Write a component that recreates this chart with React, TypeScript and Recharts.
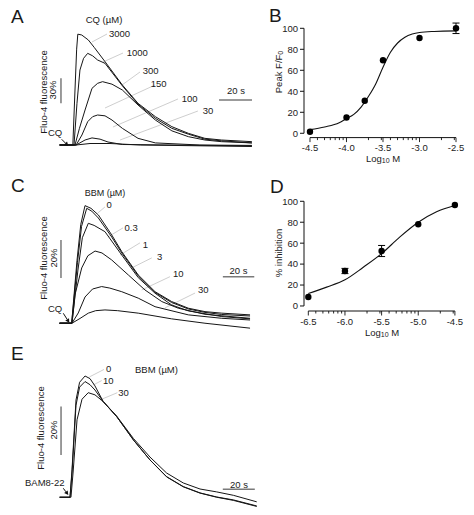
import React from 'react';
import {
  LineChart, Line, XAxis, YAxis, ReferenceLine, ComposedChart, Scatter, ErrorBar,
} from 'recharts';

const FONT = '"Liberation Sans", Arial, Helvetica, sans-serif';

// ---- panel A: CQ dose series, [time s, Fluo-4 change %]
const cqDoses = ['3000', '1000', '300', '150', '100', '30'];
const a3000 = [[1, 0], [9, 0], [10.3, 66], [11.3, 115], [12, 133], [14.4, 132], [18.4, 126], [22, 117], [28.5, 100], [39, 72], [48.5, 50], [59, 34], [69, 22], [79, 14], [89, 8], [99, 6], [117.5, 4]];
const a1000 = [[1, 0], [9.7, 0], [11.5, 50], [13.3, 90], [15.5, 104], [18, 110], [21, 107], [24, 102], [28.5, 98], [39, 71], [48.5, 49], [59, 32], [69, 20], [79, 13], [89, 7], [99, 5], [117.5, 2.5]];
const a300 = [[1, 0], [10.3, 0], [13, 20], [16.4, 42], [20.6, 68], [24, 74], [27, 76], [32.7, 73], [39, 66], [48.5, 48], [59, 30], [69, 17], [79, 10], [89, 6], [99, 4], [117.5, 2.5]];
const a150 = [[1, 0], [11, 0], [14.5, 12], [18, 28], [21, 34], [24, 36], [28.5, 35], [32.7, 30], [39, 20], [48.5, 8], [59, 2.5], [86, 0], [117.5, -0.5]];
const a100 = [[1, 0], [11, 0], [16.4, 6], [20.6, 8.5], [25.5, 7], [30.3, 3.6], [39, 0.6], [117.5, -1]];
const a30 = [[1, 0], [11, 0], [19.4, 1.8], [31.5, 1.8], [50, 0], [117.5, -1.8]];
// leader lines from each trace to its label
const aLeaders = [
  [[20.6, 123.6], [29.7, 133.2]],
  [[27.3, 99.6], [39.4, 110.4]],
  [[38.8, 72], [49.7, 87.6]],
  [[28.5, 44.4], [58.8, 72]],
  [[33.3, 21.6], [72.7, 55.2]],
  [[37.6, 6], [84.8, 40.8]],
];

// ---- panel B: peak response vs log10 [CQ]
const bDoseLog = [-4.5, -4.0, -3.75, -3.5, -3.0, -2.5];
const bPeak = [1.5, 15, 31, 69.5, 90.8, 100];
const bSem = [0, 0, 0, 0, 0, 5];
const bFitLog = [-4.5, -4.3, -4.1, -4.0, -3.9, -3.8, -3.7, -3.6, -3.5, -3.4, -3.3, -3.2, -3.1, -3.0, -2.8, -2.5];
const bFitVal = [3.5, 6, 10, 14, 18, 25, 35, 47, 63, 77, 86, 91.5, 94.5, 96, 97, 97.5];
const bMajors = [-4.5, -4.0, -3.5, -3.0, -2.5];

// ---- panel C: BBM series on CQ response
const bbmDoses = ['0', '0.3', '1', '3', '10', '30'];
const c0 = [[1, 0], [8.7, 0], [12.1, 33], [14.5, 52], [17.2, 61.9], [21, 60.5], [25.7, 57], [34.2, 46.5], [40.6, 37.7], [51.1, 25.4], [61.8, 16.6], [72.4, 11.4], [83, 7.9], [93.6, 6.1], [104.3, 5.3], [122.3, 4.4]];
const c03 = [[1, 0], [8.7, 0], [12.4, 32], [15, 51], [18.3, 60.5], [21.5, 59], [25.7, 55.4], [34.2, 45.4], [40.6, 37], [51.1, 24.9], [61.8, 16.2], [72.4, 10.9], [83, 7.5], [93.6, 5.7], [104.3, 4.6], [122.3, 3.8]];
const c1 = [[1, 0], [8.9, 0], [12.7, 28], [15.5, 45], [19.3, 52.6], [23, 51.5], [29.9, 48.2], [40.6, 35.9], [51.1, 24], [61.8, 15.8], [72.4, 9.6], [83, 6.5], [104.3, 3.5], [122.3, 2.3]];
const c3 = [[1, 0], [8.9, 0], [10.8, 14.9], [15.1, 29.1], [19, 35.5], [23.6, 38], [28, 37], [34.2, 33.3], [44.8, 25.4], [55.4, 17.5], [66.1, 11.4], [76.6, 7.9], [93.6, 4.7], [122.3, 2.6]];
const c10 = [[1, 0], [8.9, 0], [12.9, 5.4], [17.2, 13.8], [22, 18], [27.8, 19.3], [33, 18.5], [40.6, 16.6], [51.1, 13.2], [61.8, 8.7], [83, 4.4], [104.3, 2.6], [122.3, 1.7]];
const c30 = [[1, 0], [8.9, 0], [14, 2.5], [19.3, 5.3], [24, 6.6], [29.9, 7], [38, 6.6], [51.1, 5.3], [72.4, 2.3], [93.6, 0], [122.3, -2.6]];
const cLeaders = [
  [[25.5, 58.1], [29.9, 61.2]],
  [[31.8, 45.4], [41.4, 50.2]],
  [[39.5, 35.9], [52.2, 42.3]],
  [[46.9, 29.1], [59.7, 34.4]],
  [[53.3, 17.5], [71.3, 24.5]],
  [[68.2, 8.1], [87.3, 15.9]],
];

// ---- panel D: % inhibition vs log10 [BBM]
const dDoseLog = [-6.5, -6.0, -5.5, -5.0, -4.5];
const dInhib = [8.6, 33.4, 52.5, 78, 96.5];
const dSem = [0, 2.5, 5.3, 0, 0];
const dFitLog = [-6.5, -6.25, -6.0, -5.75, -5.5, -5.25, -5.0, -4.75, -4.5];
const dFitVal = [12, 18, 25, 37, 50, 66, 80, 90, 96];
const dMajors = [-6.5, -6.0, -5.5, -5.0, -4.5];

// ---- panel E: BBM on BAM8-22 response
const eDoses = ['0', '10', '30'];
const e0 = [[1, 0], [7.5, 0], [8.75, 11.3], [11.25, 40.2], [13.5, 47.5], [16.9, 50.1], [20, 49], [23.1, 46], [28.3, 39.5], [36.7, 33.3], [47.1, 23.7], [57.5, 15.4], [67.9, 8.5], [78.3, 4.4], [88.75, 1.8], [99.2, 0.1], [109.6, -1.1], [124.2, -3.6]];
const e10 = [[1, 0], [7.5, 0], [8.75, 10], [11.25, 38], [13.5, 45.5], [16.9, 47.8], [20, 46.5], [23.1, 44.3], [28.3, 39.5], [36.7, 33.3], [47.1, 23.7], [57.5, 15.4], [67.9, 8.4], [78.3, 4.3], [88.75, 1.7], [99.2, 0], [109.6, -1.3], [124.2, -3.8]];
const e30 = [[1, 0], [8.1, 0], [9.4, 10], [11.9, 32], [15, 40.5], [18.9, 43.2], [23.1, 42.3], [28.3, 39.5], [36.7, 33.5], [47.1, 24.3], [57.5, 16.6], [67.9, 10], [78.3, 5.9], [88.75, 3.4], [99.2, 2.2], [109.6, 0.8], [124.2, -1.9]];
const eLeaders = [
  [[19.6, 49.7], [28.75, 52.8]],
  [[22.1, 46.4], [27.3, 48.2]],
  [[26.25, 40.2], [37.1, 43.2]],
];

const yTicks = [0, 20, 40, 60, 80, 100];

const pts = (a: number[][]) => a.map(([t, v]) => ({ t, v }));
const seg = (s: number[][]) => [{ x: s[0][0], y: s[0][1] }, { x: s[1][0], y: s[1][1] }];

function minorTicks(lo: number, hi: number) {
  const out: number[] = [];
  for (let n = Math.floor(lo) - 1; n <= Math.ceil(hi); n++) {
    for (let k = 2; k <= 9; k++) {
      const v = n + Math.log10(k);
      if (v > lo + 1e-6 && v < hi - 1e-6) out.push(v);
    }
  }
  return out;
}

const makeLogTick = (majors: number[]) => (props: any) => {
  const { x, y, payload } = props;
  const major = majors.some((m) => Math.abs(m - payload.value) < 1e-6);
  return (
    <g>
      <line x1={x} x2={x} y1={y} y2={y + (major ? 4.5 : 2.5)} stroke="#111" strokeWidth={0.9} />
      {major && (
        <text x={x} y={y + 13.5} textAnchor="middle" fontSize={9.5} fill="#222" fontFamily={FONT}>
          {payload.value.toFixed(1)}
        </text>
      )}
    </g>
  );
};

const dot = (p: any) => <circle cx={p.cx} cy={p.cy} r={3.2} fill="#000" />;

function TracePanel({ left, top, width, height, xMax, yDomain, traces, leaders, timeBar, ampBar }: any) {
  return (
    <div style={{ position: 'absolute', left, top }}>
      <LineChart width={width} height={height} margin={{ top: 0, right: 0, bottom: 0, left: 0 }}>
        <XAxis type="number" dataKey="t" domain={[0, xMax]} hide allowDataOverflow />
        <YAxis type="number" domain={yDomain} hide allowDataOverflow />
        {leaders.map((s: number[][], i: number) => (
          <ReferenceLine key={'l' + i} segment={seg(s)} stroke="#c8c8c8" strokeWidth={0.9} ifOverflow="visible" />
        ))}
        {traces.map((d: number[][], i: number) => (
          <Line key={i} data={pts(d)} dataKey="v" type="linear" dot={false} stroke="#161616"
            strokeWidth={1} isAnimationActive={false} />
        ))}
        <ReferenceLine segment={seg(timeBar)} stroke="#7a7a7a" strokeWidth={1.5} ifOverflow="visible" />
        <ReferenceLine segment={seg(ampBar)} stroke="#7a7a7a" strokeWidth={1.5} ifOverflow="visible" />
      </LineChart>
    </div>
  );
}

function DosePanel({ left, top, height, xDomain, yDomain, majors, xs, ys, sems, fitX, fitY }: any) {
  const lo = majors[0];
  const hi = majors[majors.length - 1];
  const ticks = [...majors, ...minorTicks(lo, hi)].sort((a, b) => a - b);
  const points = xs.map((x: number, i: number) => ({ x, y: ys[i], err: sems[i] }));
  const fit = fitX.map((x: number, i: number) => ({ x, y: fitY[i] }));
  return (
    <div style={{ position: 'absolute', left, top }}>
      <ComposedChart width={208} height={height} margin={{ top: 0, right: 10, bottom: 0, left: 0 }}>
        <XAxis type="number" dataKey="x" domain={xDomain} allowDataOverflow ticks={ticks} interval={0}
          tick={makeLogTick(majors)} tickLine={false} axisLine={false} tickSize={0} tickMargin={0} height={30} />
        <YAxis type="number" domain={yDomain} allowDataOverflow ticks={yTicks} interval={0} width={40}
          axisLine={false} tickSize={4} tickLine={{ stroke: '#111' }}
          tick={{ fontSize: 9.5, fill: '#222', fontFamily: FONT }} />
        <ReferenceLine segment={[{ x: xDomain[0], y: 0 }, { x: xDomain[0], y: 100 }]} stroke="#111" ifOverflow="visible" />
        <ReferenceLine segment={[{ x: lo, y: yDomain[0] }, { x: hi, y: yDomain[0] }]} stroke="#111" ifOverflow="visible" />
        <Line data={fit} dataKey="y" type="monotone" dot={false} stroke="#111" strokeWidth={1.1} isAnimationActive={false} />
        <Scatter data={points} dataKey="y" fill="#000" shape={dot} isAnimationActive={false}>
          <ErrorBar dataKey="err" direction="y" width={3.5} stroke="#000" strokeWidth={1} />
        </Scatter>
      </ComposedChart>
    </div>
  );
}

function T({ x, y, children, size = 9.5, anchor = 'start' }: any) {
  return (
    <text x={x} y={y} fontSize={size} fontFamily={FONT} fill="#1a1a1a" textAnchor={anchor} dominantBaseline="central">
      {children}
    </text>
  );
}

function VT({ x, y, children }: any) {
  return (
    <text transform={`translate(${x},${y}) rotate(-90)`} fontSize={9.5} fontFamily={FONT} fill="#1a1a1a"
      textAnchor="middle" dominantBaseline="central">
      {children}
    </text>
  );
}

function Arrow({ x1, y1, x2, y2 }: any) {
  const a = Math.atan2(y2 - y1, x2 - x1);
  const L = 4;
  const W = 2.2;
  const bx = x2 - L * Math.cos(a);
  const by = y2 - L * Math.sin(a);
  const p = `${x2},${y2} ${bx - W * Math.sin(a)},${by + W * Math.cos(a)} ${bx + W * Math.sin(a)},${by - W * Math.cos(a)}`;
  return (
    <g>
      <line x1={x1} y1={y1} x2={bx} y2={by} stroke="#111" strokeWidth={1} />
      <polygon points={p} fill="#111" />
    </g>
  );
}

export default function App() {
  return (
    <div style={{ position: 'absolute', left: 0, top: 0, width: 474, height: 515, background: '#fff', overflow: 'hidden' }}>
      <TracePanel left={58} top={25} width={198} height={130} xMax={120} yDomain={[-12, 144]}
        traces={[a3000, a1000, a300, a150, a100, a30]} leaders={aLeaders}
        timeBar={[[97.6, 54], [117.6, 54]]} ampBar={[[1.8, 50], [1.8, 80]]} />
      <TracePanel left={58} top={195} width={198} height={140} xMax={126.1} yDomain={[-6.2, 67.5]}
        traces={[c0, c03, c1, c3, c10, c30]} leaders={cLeaders}
        timeBar={[[105, 24.4], [125, 24.4]]} ampBar={[[1.9, 23.8], [1.9, 43.8]]} />
      <TracePanel left={58} top={360} width={204} height={152} xMax={127.5} yDomain={[-6.1, 56.7]}
        traces={[e0, e10, e30]} leaders={eLeaders}
        timeBar={[[103, 3.3], [123, 3.3]]} ampBar={[[1.9, 17.5], [1.9, 37.5]]} />

      <DosePanel left={264} top={21.7} height={145.6} xDomain={[-4.582, -2.418]} yDomain={[-4.1, 106]}
        majors={bMajors} xs={bDoseLog} ys={bPeak} sems={bSem} fitX={bFitLog} fitY={bFitVal} />
      <DosePanel left={264} top={194.7} height={146} xDomain={[-6.559, -4.403]} yDomain={[-4.8, 106]}
        majors={dMajors} xs={dDoseLog} ys={dInhib} sems={dSem} fitX={dFitLog} fitY={dFitVal} />

      <svg width={474} height={515} style={{ position: 'absolute', left: 0, top: 0, pointerEvents: 'none' }}>
        {/* A */}
        <T x={11} y={16} size={19}>A</T>
        <T x={104} y={19.3} anchor="middle">CQ (µM)</T>
        {[[109, 33.3], [126.7, 52.3], [142.7, 70], [150.7, 83.3], [181.7, 98.3], [202.7, 110]].map((p, i) => (
          <T key={i} x={p[0]} y={p[1]}>{cqDoses[i]}</T>
        ))}
        <T x={236} y={90.7} anchor="middle">20 s</T>
        <VT x={43} y={92}>Fluo-4 fluorescence</VT>
        <VT x={52} y={90}>30%</VT>
        <T x={48} y={132}>CQ</T>
        <Arrow x1={61.7} y1={139.3} x2={68.3} y2={146} />

        {/* B */}
        <T x={269} y={15} size={19}>B</T>
        <VT x={278} y={72}>Peak F/F<tspan fontSize={7} dy={2}>0</tspan></VT>
        <T x={383} y={158} anchor="middle">Log<tspan fontSize={7} dy={2}>10</tspan><tspan dy={-2}> M</tspan></T>

        {/* C */}
        <T x={11} y={185} size={19}>C</T>
        <T x={105} y={193} size={9} anchor="middle">BBM (µM)</T>
        {[[106.5, 204.5], [124.5, 227.3], [142.7, 244], [157, 256.5], [173, 273], [198, 289.3]].map((p, i) => (
          <T key={i} x={p[0]} y={p[1]}>{bbmDoses[i]}</T>
        ))}
        <T x={238.5} y={270.5} anchor="middle">20 s</T>
        <VT x={43} y={258}>Fluo-4 fluorescence</VT>
        <VT x={53} y={258}>20%</VT>
        <T x={48} y={308.3}>CQ</T>
        <Arrow x1={63.3} y1={313.3} x2={69.3} y2={322.7} />

        {/* D */}
        <T x={270} y={186} size={19}>D</T>
        <VT x={278} y={253}>% inhibition</VT>
        <T x={382} y={332} anchor="middle">Log<tspan fontSize={7} dy={2}>10</tspan><tspan dy={-2}> M</tspan></T>

        {/* E */}
        <T x={11} y={353} size={19}>E</T>
        {[[106, 368.3], [103, 380.7], [118.3, 392.7]].map((p, i) => (
          <T key={i} x={p[0]} y={p[1]}>{eDoses[i]}</T>
        ))}
        <T x={135} y={369}>BBM (µM)</T>
        <T x={239} y={484} anchor="middle">20 s</T>
        <VT x={40} y={428}>Fluo-4 fluorescence</VT>
        <VT x={53} y={430}>20%</VT>
        <T x={25} y={482.7}>BAM8-22</T>
        <Arrow x1={63.3} y1={488.3} x2={68.3} y2={495} />
      </svg>
    </div>
  );
}
